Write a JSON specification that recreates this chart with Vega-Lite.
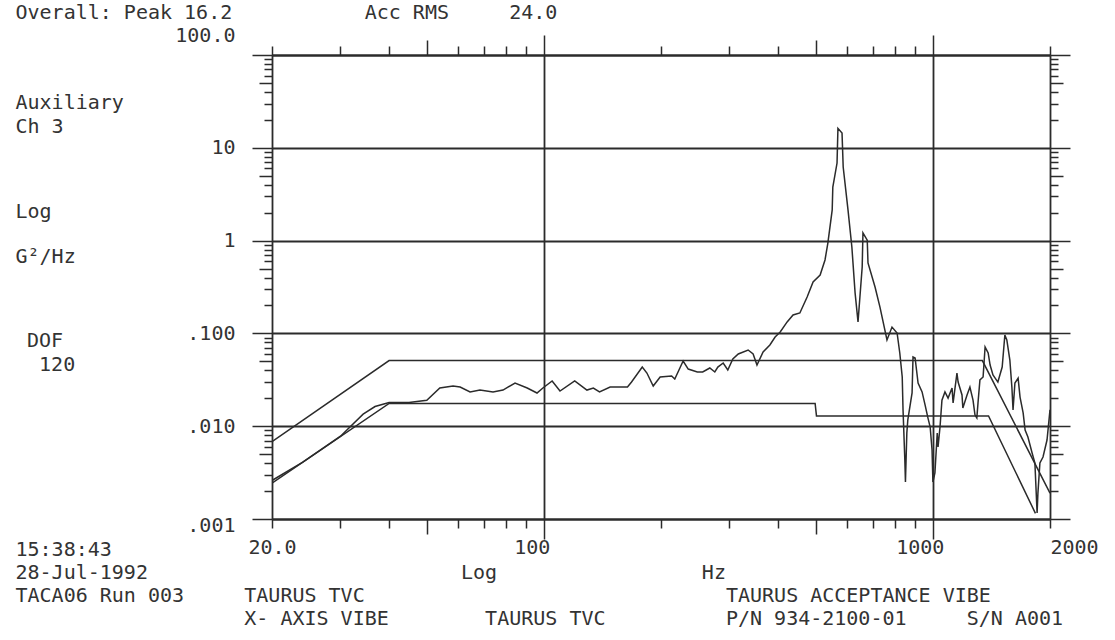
{
  "$schema": "https://vega.github.io/schema/vega-lite/v6.json",
  "width": 778,
  "height": 464,
  "autosize": {"type": "none"},
  "padding": {"left": 272, "top": 55, "right": 65, "bottom": 121},
  "background": "#ffffff",
  "title": {
    "text": ["\u200b\u00a0DOF", "\u200b\u00a0\u00a0120"],
    "orient": "top", "anchor": "start", "frame": "group",
    "align": "left", "baseline": "alphabetic",
    "font": "DejaVu Sans Mono", "fontSize": 20, "fontWeight": "normal", "color": "#333333",
    "lineHeight": 24, "offset": 0, "dx": -257, "dy": 389
  },
  "config": {
    "view": {"stroke": null},
    "font": "DejaVu Sans Mono",
    "axis": {
      "labelFont": "DejaVu Sans Mono", "labelFontSize": 20, "labelColor": "#333333",
      "titleFont": "DejaVu Sans Mono", "titleFontSize": 20, "titleFontWeight": "normal", "titleColor": "#333333",
      "titleAngle": 0, "titleAlign": "left", "titleBaseline": "alphabetic",
      "domainColor": "#2b2b2b", "domainWidth": 1.8, "tickColor": "#2b2b2b", "tickWidth": 1.5,
      "gridColor": "#2b2b2b", "gridWidth": 1.8,
      "labelOverlap": false, "labelFlush": false, "labelBound": false
    }
  },
  "data": {"values": [
    {"series":"Response","freq":20,"psd":0.0026},
    {"series":"Response","freq":24,"psd":0.0041},
    {"series":"Response","freq":30,"psd":0.0078},
    {"series":"Response","freq":34.3,"psd":0.0135},
    {"series":"Response","freq":36.8,"psd":0.0163},
    {"series":"Response","freq":40,"psd":0.018},
    {"series":"Response","freq":45,"psd":0.018},
    {"series":"Response","freq":50,"psd":0.019},
    {"series":"Response","freq":54,"psd":0.0258},
    {"series":"Response","freq":58.4,"psd":0.0271},
    {"series":"Response","freq":60.9,"psd":0.0264},
    {"series":"Response","freq":64.6,"psd":0.0234},
    {"series":"Response","freq":68.5,"psd":0.0245},
    {"series":"Response","freq":74,"psd":0.0234},
    {"series":"Response","freq":78.5,"psd":0.0245},
    {"series":"Response","freq":84.3,"psd":0.0292},
    {"series":"Response","freq":90.6,"psd":0.0258},
    {"series":"Response","freq":96,"psd":0.0228},
    {"series":"Response","freq":99.4,"psd":0.0258},
    {"series":"Response","freq":105,"psd":0.0307},
    {"series":"Response","freq":110,"psd":0.0239},
    {"series":"Response","freq":120,"psd":0.0307},
    {"series":"Response","freq":129,"psd":0.0245},
    {"series":"Response","freq":134,"psd":0.0258},
    {"series":"Response","freq":139,"psd":0.0234},
    {"series":"Response","freq":148,"psd":0.0264},
    {"series":"Response","freq":164,"psd":0.0264},
    {"series":"Response","freq":168,"psd":0.0299},
    {"series":"Response","freq":179,"psd":0.0434},
    {"series":"Response","freq":184,"psd":0.0374},
    {"series":"Response","freq":191,"psd":0.0271},
    {"series":"Response","freq":199,"psd":0.0339},
    {"series":"Response","freq":213,"psd":0.0348},
    {"series":"Response","freq":217,"psd":0.0323},
    {"series":"Response","freq":228,"psd":0.0504},
    {"series":"Response","freq":235,"psd":0.0413},
    {"series":"Response","freq":248,"psd":0.0384},
    {"series":"Response","freq":256,"psd":0.0384},
    {"series":"Response","freq":267,"psd":0.0424},
    {"series":"Response","freq":275,"psd":0.0384},
    {"series":"Response","freq":280,"psd":0.0434},
    {"series":"Response","freq":289,"psd":0.048},
    {"series":"Response","freq":297,"psd":0.0403},
    {"series":"Response","freq":306,"psd":0.053},
    {"series":"Response","freq":316,"psd":0.06},
    {"series":"Response","freq":335,"psd":0.0662},
    {"series":"Response","freq":345,"psd":0.06},
    {"series":"Response","freq":353,"psd":0.0456},
    {"series":"Response","freq":366,"psd":0.0631},
    {"series":"Response","freq":381,"psd":0.075},
    {"series":"Response","freq":393,"psd":0.0914},
    {"series":"Response","freq":405,"psd":0.1035},
    {"series":"Response","freq":422,"psd":0.133},
    {"series":"Response","freq":437,"psd":0.158},
    {"series":"Response","freq":455,"psd":0.166},
    {"series":"Response","freq":475,"psd":0.247},
    {"series":"Response","freq":492,"psd":0.358},
    {"series":"Response","freq":513,"psd":0.426},
    {"series":"Response","freq":528,"psd":0.618},
    {"series":"Response","freq":537,"psd":0.94},
    {"series":"Response","freq":551,"psd":2.14},
    {"series":"Response","freq":553,"psd":3.78},
    {"series":"Response","freq":567,"psd":6.85},
    {"series":"Response","freq":570,"psd":16.2},
    {"series":"Response","freq":584,"psd":14.4},
    {"series":"Response","freq":588,"psd":6.21},
    {"series":"Response","freq":605,"psd":2.14},
    {"series":"Response","freq":619,"psd":0.853},
    {"series":"Response","freq":631,"psd":0.272},
    {"series":"Response","freq":642,"psd":0.133},
    {"series":"Response","freq":658,"psd":0.52},
    {"series":"Response","freq":661,"psd":1.21},
    {"series":"Response","freq":678,"psd":1.01},
    {"series":"Response","freq":681,"psd":0.574},
    {"series":"Response","freq":710,"psd":0.316},
    {"series":"Response","freq":731,"psd":0.192},
    {"series":"Response","freq":762,"psd":0.0849},
    {"series":"Response","freq":785,"psd":0.117},
    {"series":"Response","freq":809,"psd":0.101},
    {"series":"Response","freq":822,"psd":0.0615},
    {"series":"Response","freq":834,"psd":0.0339},
    {"series":"Response","freq":838,"psd":0.015},
    {"series":"Response","freq":847,"psd":0.0043},
    {"series":"Response","freq":850,"psd":0.0025},
    {"series":"Response","freq":857,"psd":0.00845},
    {"series":"Response","freq":862,"psd":0.0117},
    {"series":"Response","freq":884,"psd":0.0228},
    {"series":"Response","freq":889,"psd":0.0557},
    {"series":"Response","freq":900,"psd":0.0543},
    {"series":"Response","freq":916,"psd":0.0292},
    {"series":"Response","freq":938,"psd":0.0234},
    {"series":"Response","freq":955,"psd":0.0169},
    {"series":"Response","freq":971,"psd":0.0123},
    {"series":"Response","freq":984,"psd":0.0098},
    {"series":"Response","freq":995,"psd":0.00555},
    {"series":"Response","freq":1000,"psd":0.0025},
    {"series":"Response","freq":1012,"psd":0.00313},
    {"series":"Response","freq":1026,"psd":0.00845},
    {"series":"Response","freq":1031,"psd":0.00597},
    {"series":"Response","freq":1043,"psd":0.0098},
    {"series":"Response","freq":1055,"psd":0.0191},
    {"series":"Response","freq":1074,"psd":0.0234},
    {"series":"Response","freq":1094,"psd":0.0201},
    {"series":"Response","freq":1120,"psd":0.0258},
    {"series":"Response","freq":1127,"psd":0.0178},
    {"series":"Response","freq":1153,"psd":0.0374},
    {"series":"Response","freq":1161,"psd":0.0299},
    {"series":"Response","freq":1188,"psd":0.0217},
    {"series":"Response","freq":1194,"psd":0.0157},
    {"series":"Response","freq":1224,"psd":0.0217},
    {"series":"Response","freq":1245,"psd":0.0264},
    {"series":"Response","freq":1268,"psd":0.0191},
    {"series":"Response","freq":1283,"psd":0.0132},
    {"series":"Response","freq":1297,"psd":0.0123},
    {"series":"Response","freq":1306,"psd":0.0178},
    {"series":"Response","freq":1321,"psd":0.0315},
    {"series":"Response","freq":1346,"psd":0.0339},
    {"series":"Response","freq":1362,"psd":0.0713},
    {"series":"Response","freq":1387,"psd":0.0615},
    {"series":"Response","freq":1403,"psd":0.0456},
    {"series":"Response","freq":1427,"psd":0.0356},
    {"series":"Response","freq":1469,"psd":0.0299},
    {"series":"Response","freq":1507,"psd":0.0434},
    {"series":"Response","freq":1531,"psd":0.0961},
    {"series":"Response","freq":1549,"psd":0.0849},
    {"series":"Response","freq":1577,"psd":0.0516},
    {"series":"Response","freq":1596,"psd":0.0264},
    {"series":"Response","freq":1607,"psd":0.015},
    {"series":"Response","freq":1625,"psd":0.0292},
    {"series":"Response","freq":1656,"psd":0.033},
    {"series":"Response","freq":1675,"psd":0.0206},
    {"series":"Response","freq":1706,"psd":0.0139},
    {"series":"Response","freq":1726,"psd":0.0091},
    {"series":"Response","freq":1755,"psd":0.00766},
    {"series":"Response","freq":1799,"psd":0.00514},
    {"series":"Response","freq":1829,"psd":0.00401},
    {"series":"Response","freq":1853,"psd":0.00116},
    {"series":"Response","freq":1862,"psd":0.0019},
    {"series":"Response","freq":1884,"psd":0.00401},
    {"series":"Response","freq":1919,"psd":0.00466},
    {"series":"Response","freq":1965,"psd":0.0071},
    {"series":"Response","freq":2000,"psd":0.015},
    {"series":"Upper","freq":20,"psd":0.0068},
    {"series":"Upper","freq":40,"psd":0.051},
    {"series":"Upper","freq":1340,"psd":0.051},
    {"series":"Upper","freq":2000,"psd":0.0019},
    {"series":"Reference","freq":20,"psd":0.00244},
    {"series":"Reference","freq":40,"psd":0.0176},
    {"series":"Reference","freq":498,"psd":0.0176},
    {"series":"Reference","freq":502,"psd":0.0129},
    {"series":"Reference","freq":1390,"psd":0.0129},
    {"series":"Reference","freq":1835,"psd":0.00115}
  ]},
  "layer": [
    {
      "transform": [{"filter": "datum.series == 'Response'"}],
      "mark": {"type": "line", "color": "#2b2b2b", "strokeWidth": 1.5, "clip": true},
      "encoding": {
        "x": {
          "field": "freq", "type": "quantitative",
          "scale": {"type": "log", "domain": [20, 2000], "nice": false},
          "axis": {
            "orient": "bottom",
            "values": [20,30,40,50,60,70,80,90,100,200,300,400,500,600,700,800,900,1000,2000],
            "grid": true,
            "gridOpacity": {"condition": {"test": "datum.value == 100 || datum.value == 1000", "value": 1}, "value": 0},
            "tickSize": {"condition": [{"test": "datum.value == 100 || datum.value == 1000", "value": 20}, {"test": "datum.value == 50 || datum.value == 500", "value": 15}], "value": 9},
            "labelExpr": "datum.value == 20 ? '20.0' : datum.value == 100 ? '100' : datum.value == 1000 ? '1000' : datum.value == 2000 ? '2000' : ''",
            "labelAlign": {"condition": [{"test": "datum.value == 2000", "value": "left"}, {"test": "datum.value == 100 || datum.value == 1000", "value": "right"}], "value": "center"},
            "labelOffset": {"condition": [{"test": "datum.value == 100", "value": 6}, {"test": "datum.value == 1000", "value": 11}], "value": 0},
            "labelPadding": {"condition": {"test": "datum.value == 100 || datum.value == 1000", "value": -2}, "value": 9},
            "title": [
              "15:38:43",
              "28-Jul-1992\u00a0\u00a0\u00a0\u00a0\u00a0\u00a0\u00a0\u00a0\u00a0\u00a0\u00a0\u00a0\u00a0\u00a0\u00a0\u00a0\u00a0\u00a0\u00a0\u00a0\u00a0\u00a0\u00a0\u00a0\u00a0\u00a0Log\u00a0\u00a0\u00a0\u00a0\u00a0\u00a0\u00a0\u00a0\u00a0\u00a0\u00a0\u00a0\u00a0\u00a0\u00a0\u00a0\u00a0Hz",
              "TACA06 Run 003\u00a0\u00a0\u00a0\u00a0\u00a0TAURUS TVC\u00a0\u00a0\u00a0\u00a0\u00a0\u00a0\u00a0\u00a0\u00a0\u00a0\u00a0\u00a0\u00a0\u00a0\u00a0\u00a0\u00a0\u00a0\u00a0\u00a0\u00a0\u00a0\u00a0\u00a0\u00a0\u00a0\u00a0\u00a0\u00a0\u00a0TAURUS ACCEPTANCE VIBE",
              "\u200b\u00a0\u00a0\u00a0\u00a0\u00a0\u00a0\u00a0\u00a0\u00a0\u00a0\u00a0\u00a0\u00a0\u00a0\u00a0\u00a0\u00a0\u00a0\u00a0X- AXIS VIBE\u00a0\u00a0\u00a0\u00a0\u00a0\u00a0\u00a0\u00a0TAURUS TVC\u00a0\u00a0\u00a0\u00a0\u00a0\u00a0\u00a0\u00a0\u00a0\u00a0P/N 934-2100-01\u00a0\u00a0\u00a0\u00a0\u00a0S/N A001"
            ],
            "titleX": -257, "titleY": 36, "titleLineHeight": 23
          }
        },
        "y": {
          "field": "psd", "type": "quantitative",
          "scale": {"type": "log", "domain": [0.001, 100], "nice": false},
          "axis": {
            "orient": "left",
            "values": [0.001,0.002,0.003,0.004,0.005,0.006,0.007,0.008,0.009,0.01,0.02,0.03,0.04,0.05,0.06,0.07,0.08,0.09,0.1,0.2,0.3,0.4,0.5,0.6,0.7,0.8,0.9,1,2,3,4,5,6,7,8,9,10,20,30,40,50,60,70,80,90,100],
            "grid": true,
            "gridOpacity": {"condition": {"test": "indexof([0.001,0.01,0.1,1,10,100], datum.value) >= 0", "value": 1}, "value": 0},
            "tickSize": {"condition": [{"test": "indexof([0.001,0.01,0.1,1,10,100], datum.value) >= 0", "value": 20}, {"test": "indexof([0.005,0.05,0.5,5,50], datum.value) >= 0", "value": 13}], "value": 8},
            "labelExpr": "datum.value == 100 ? '100.0' : datum.value == 10 ? '10' : datum.value == 1 ? '1' : datum.value == 0.1 ? '.100' : datum.value == 0.01 ? '.010' : datum.value == 0.001 ? '.001' : ''",
            "labelPadding": 17,
            "labelOffset": {"condition": [{"test": "datum.value == 100", "value": -20}, {"test": "datum.value == 0.001", "value": 6}], "value": 0},
            "title": ["Auxiliary", "Ch 3"],
            "titleX": -257, "titleY": 53, "titleLineHeight": 24
          }
        }
      }
    },
    {
      "transform": [{"filter": "datum.series != 'Response'"}],
      "mark": {"type": "line", "color": "#2b2b2b", "strokeWidth": 1.5, "clip": true},
      "encoding": {
        "x": {
          "field": "freq", "type": "quantitative",
          "scale": {"type": "log", "domain": [20, 2000], "nice": false},
          "axis": {
            "orient": "top",
            "values": [20,30,40,50,60,70,80,90,100,200,300,400,500,600,700,800,900,1000,2000],
            "grid": false,
            "labels": false,
            "tickSize": {"condition": [{"test": "datum.value == 100 || datum.value == 1000", "value": 20}, {"test": "datum.value == 50 || datum.value == 500", "value": 15}], "value": 9},
            "title": "Overall: Peak 16.2\u00a0\u00a0\u00a0\u00a0\u00a0\u00a0\u00a0\u00a0\u00a0\u00a0\u00a0Acc RMS\u00a0\u00a0\u00a0\u00a0\u00a024.0",
            "titleX": -257, "titleY": -37
          }
        },
        "y": {
          "field": "psd", "type": "quantitative",
          "scale": {"type": "log", "domain": [0.001, 100], "nice": false},
          "axis": {
            "orient": "right",
            "values": [0.001,0.002,0.003,0.004,0.005,0.006,0.007,0.008,0.009,0.01,0.02,0.03,0.04,0.05,0.06,0.07,0.08,0.09,0.1,0.2,0.3,0.4,0.5,0.6,0.7,0.8,0.9,1,2,3,4,5,6,7,8,9,10,20,30,40,50,60,70,80,90,100],
            "grid": false,
            "labels": false,
            "tickSize": {"condition": [{"test": "indexof([0.001,0.01,0.1,1,10,100], datum.value) >= 0", "value": 20}, {"test": "indexof([0.005,0.05,0.5,5,50], datum.value) >= 0", "value": 13}], "value": 8},
            "title": ["Log", "G²/Hz"],
            "titleX": -1035, "titleY": 162, "titleLineHeight": 45
          }
        },
        "detail": {"field": "series"}
      }
    }
  ],
  "resolve": {"axis": {"x": "independent", "y": "independent"}}
}
